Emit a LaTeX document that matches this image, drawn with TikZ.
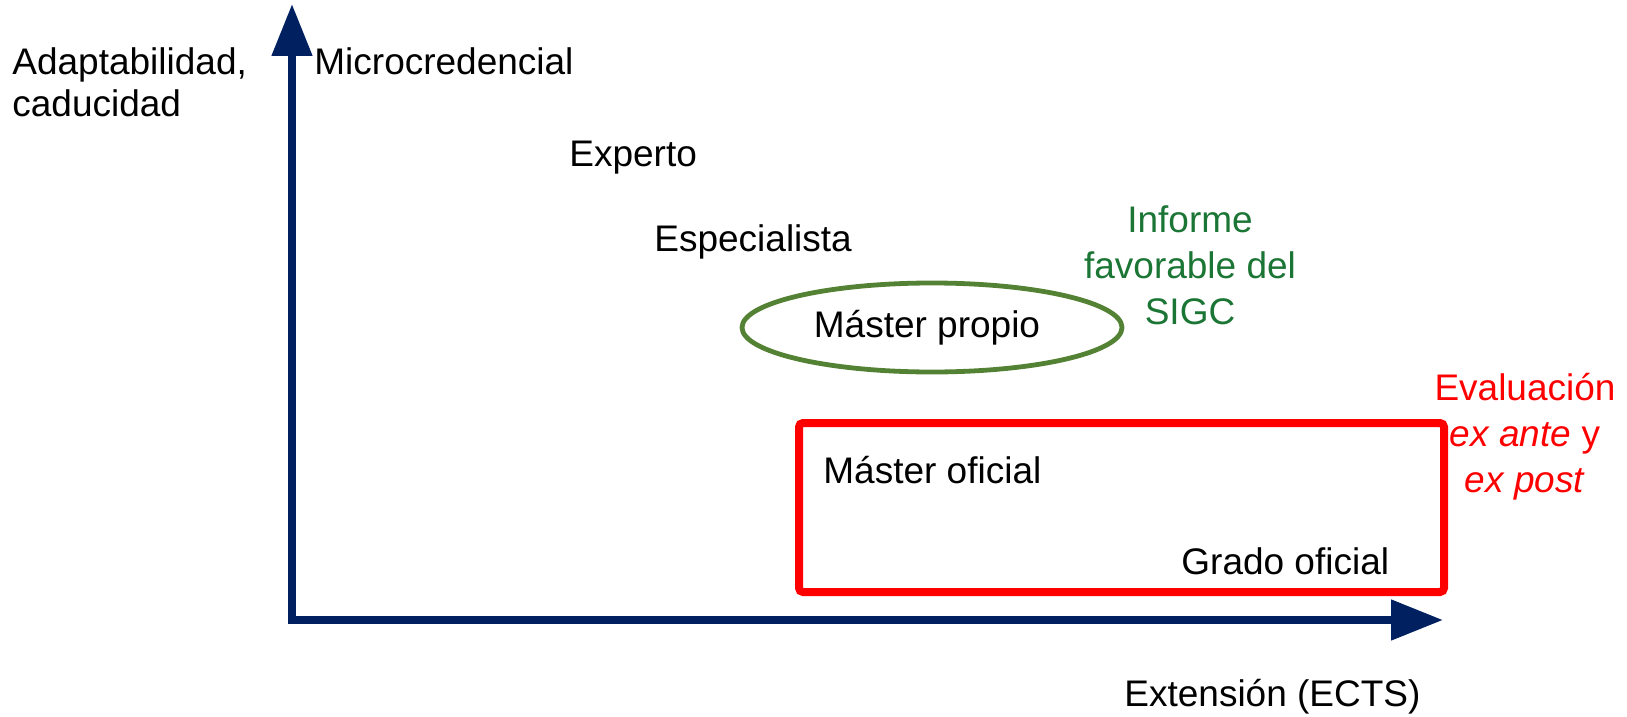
\documentclass[tikz,border=0pt]{standalone}
\usepackage{fontspec}
\setmainfont{Liberation Sans}
\usetikzlibrary{arrows.meta,shapes.geometric}
\definecolor{axisblue}{RGB}{0,32,96}
\definecolor{ellgreen}{RGB}{84,130,53}
\definecolor{txtgreen}{RGB}{27,117,52}
\definecolor{boxred}{RGB}{255,0,0}
\tikzset{
  lbl/.style={anchor=base west, inner sep=0pt, font=\fontsize{18.5}{21}\selectfont},
  clbl/.style={anchor=base, inner sep=0pt, align=center, font=\fontsize{18.5}{23}\selectfont},
  axisline/.style={draw=axisblue, line width=4pt, line join=miter,
    {Triangle[length=26pt,width=19.5pt]}-{Triangle[length=26pt,width=19.5pt]}},
}
\begin{document}
\begin{tikzpicture}[x=0.5pt,y=-0.5pt]
\useasboundingbox (0,0) rectangle (1627,717);
% axes
\coordinate (ytip) at (292,4);
\coordinate (origin) at (292,620);
\coordinate (xtip) at (1443,620);
\draw[axisline] (ytip) -- (origin) -- (xtip);
% labels (multi-line nodes are placed by the baseline of their last line)
\node[lbl, align=left, font=\fontsize{18.5}{21}\selectfont] (ylab) at (12,117) {Adaptabilidad,\\caducidad};
\node[lbl] (micro) at (314,75) {Microcredencial};
\node[lbl] (experto) at (569,166) {Experto};
\node[lbl] (espec) at (654,251) {Especialista};
\node[draw=ellgreen, line width=2.4pt, ellipse, inner sep=0pt,
  minimum width=190pt, minimum height=44.5pt,
  font=\fontsize{18.5}{21}\selectfont] (mpropio) at (932,327.5) {Máster propio\hspace*{5pt}};
\node[clbl, text=txtgreen] (informe) at (1190,324) {Informe\\favorable del\\SIGC};
\node[draw=boxred, line width=4pt, rounded corners=2pt, inner sep=0pt,
  minimum width=322.5pt, minimum height=84.5pt] (oficial) at (1121.5,507.5) {};
\node[lbl] (moficial) at (823,483) {Máster oficial};
\node[lbl] (goficial) at (1181,574) {Grado oficial};
\node[clbl, text=boxred] (evalua) at (1525,492) {Evaluación\\\textit{ex ante} y\\\textit{ex post}};
\node[lbl] (xlab) at (1124,706) {Extensión (ECTS)};
\end{tikzpicture}
\end{document}
